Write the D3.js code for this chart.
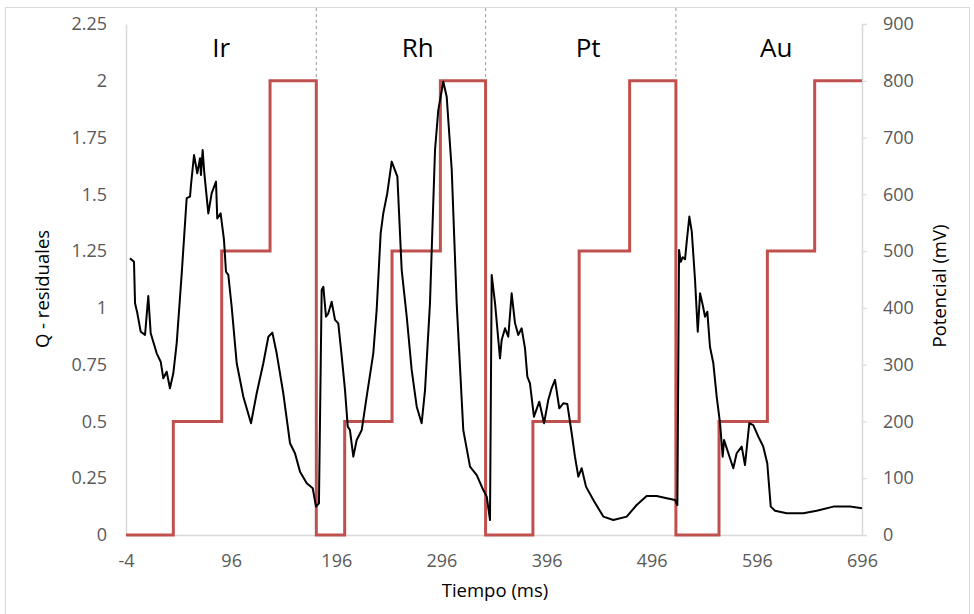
<!DOCTYPE html>
<html>
<head>
<meta charset="utf-8">
<script src="https://cdn.jsdelivr.net/npm/d3@7"></script>
<style>
  body { margin: 0; background: #fff; }
  svg { display: block; font-family: "Open Sans", sans-serif; }
</style>
</head>
<body>
<div class="chart"></div>
<script>
// Q residuales (eje izquierdo)
var tiempo = [-0.2, 3.6, 4.6, 6.8, 10.0, 14.1, 17.2, 19.5, 25.2, 29.0, 31.5, 34.7, 37.8, 41.0, 44.2, 49.0,
  53.7, 56.9, 57.8, 60.7, 63.8, 66.4, 67.3, 68.9, 70.5, 74.3, 77.5, 81.6, 82.8, 86.0, 89.2, 91.1, 93.3,
  96.5, 101.3, 107.6, 114.9, 120.3, 126.6, 131.4, 135.2, 139.3, 145.6, 152.0, 156.7, 161.5, 167.9, 173.6, 176.7,
  179.5, 182.1, 183.7, 186.2, 188.4, 191.6, 194.8, 197.9, 201.2, 204.3, 206.9, 209.0, 212.2, 215.4, 220.2,
  224.9, 231.2, 234.4, 238.2, 240.7, 244.5, 248.7, 254.1, 258.2, 263.0, 267.7, 272.5, 277.2, 280.4, 285.1,
  289.9, 293.0, 297.8, 301.0, 305.8, 310.5, 316.8, 323.2, 329.6, 335.8, 339.1,
  342.2, 343.8, 347.0, 351.7, 353.3, 356.5, 359.6, 362.8, 366.0, 369.1, 372.3, 375.5, 377.7, 380.2, 384.0,
  389.1, 393.6, 397.6, 400.8, 404.0, 408.1, 411.9, 415.7, 419.9, 423.0, 426.2, 429.4, 433.5, 440.5, 450.0,
  459.5, 472.2, 481.7, 491.2, 500.7, 510.3, 518.2,
  520.4, 522.0, 523.6, 525.5, 527.7, 529.3, 531.8, 534.1, 537.2, 539.8, 542.0, 544.5, 546.7, 548.9, 551.4,
  554.6, 557.8, 561.0, 563.5, 564.8, 568.9, 573.6, 576.8, 581.6, 584.7, 588.8, 592.6, 597.4, 602.1, 605.9,
  609.2, 613.3, 624.4, 640.2, 652.9, 668.8, 684.6, 696.0];
var qResiduales = [1.218, 1.203, 1.020, 0.976, 0.895, 0.881, 1.052, 0.888, 0.800, 0.763, 0.690, 0.719, 0.646, 0.712, 0.844, 1.152,
  1.483, 1.490, 1.541, 1.673, 1.593, 1.659, 1.585, 1.695, 1.593, 1.416, 1.505, 1.556, 1.394, 1.416, 1.299, 1.159, 1.145,
  1.005, 0.756, 0.609, 0.492, 0.624, 0.756, 0.873, 0.891, 0.800, 0.624, 0.404, 0.360, 0.279, 0.228, 0.206, 0.125,
  0.139, 1.079, 1.093, 0.961, 0.976, 1.027, 0.947, 0.932, 0.785, 0.638, 0.477, 0.462, 0.345, 0.418, 0.462,
  0.609, 0.800, 0.991, 1.328, 1.416, 1.505, 1.644, 1.578, 1.167, 0.961, 0.727, 0.565, 0.492, 0.638, 1.020,
  1.695, 1.871, 1.996, 1.930, 1.607, 1.020, 0.462, 0.301, 0.264, 0.198, 0.169,
  0.066, 1.145, 1.020, 0.778, 0.859, 0.910, 0.873, 1.064, 0.932, 0.881, 0.910, 0.822, 0.697, 0.668, 0.521,
  0.587, 0.492, 0.594, 0.646, 0.683, 0.558, 0.580, 0.577, 0.448, 0.345, 0.257, 0.294, 0.213, 0.154, 0.081,
  0.066, 0.081, 0.132, 0.172, 0.172, 0.162, 0.154,
  0.132, 1.255, 1.203, 1.223, 1.214, 1.292, 1.402, 1.336, 1.123, 0.895, 1.064, 1.013, 0.961, 0.983, 0.829,
  0.756, 0.609, 0.492, 0.345, 0.418, 0.360, 0.294, 0.360, 0.389, 0.308, 0.492, 0.484, 0.433, 0.389, 0.316,
  0.125, 0.107, 0.096, 0.096, 0.107, 0.125, 0.125, 0.118];

// potencial aplicado (eje derecho), escalones
var pasoTiempo = [-4, 41, 87, 133, 177, 204, 249, 295, 338, 383, 427, 475, 519, 560, 606, 651, 696];
var pasoPotencial = [0, 200, 500, 800, 0, 200, 500, 800, 0, 200, 500, 800, 0, 200, 500, 800, 800];

var metales = ["Ir", "Rh", "Pt", "Au"];
var cortes = [177, 338, 519];

var xTicks = [-4, 96, 196, 296, 396, 496, 596, 696];
var qTicks = [0, 0.25, 0.5, 0.75, 1, 1.25, 1.5, 1.75, 2, 2.25];
var mvTicks = [0, 100, 200, 300, 400, 500, 600, 700, 800, 900];

(function() {
  var width = 974, height = 614;
  var mLeft = 126, mRight = 862, mTop = 24, mBottom = 535;

  var svg = d3.select('.chart').append('svg').attr('width', width).attr('height', height);

  // marco del grafico
  svg.append('rect').attr('x', 5.5).attr('y', 7.5).attr('width', 964).attr('height', 620)
    .attr('fill', 'none').attr('stroke', '#d9d9d9');

  var x = d3.scaleLinear().domain([-4, 696]).range([mLeft, mRight]);
  var yQ = d3.scaleLinear().domain([0, 2.25]).range([mBottom, mTop]);
  var yMv = d3.scaleLinear().domain([0, 900]).range([mBottom, mTop]);

  // ejes
  var gx = svg.append('g').attr('transform', 'translate(0,' + mBottom + ')')
    .call(d3.axisBottom(x).tickValues(xTicks).tickSize(0).tickPadding(19).tickFormat(String));
  var gl = svg.append('g').attr('transform', 'translate(' + mLeft + ',0)')
    .call(d3.axisLeft(yQ).tickValues(qTicks).tickSize(0).tickPadding(19).tickFormat(String));
  var gr = svg.append('g').attr('transform', 'translate(' + mRight + ',0)')
    .call(d3.axisRight(yMv).tickValues(mvTicks).tickSize(5).tickPadding(16).tickFormat(String));

  [gx, gl, gr].forEach(function(g) {
    g.select('.domain').attr('stroke', '#d9d9d9').attr('stroke-width', 1.5);
    g.selectAll('.tick line').attr('stroke', '#d9d9d9');
    g.selectAll('.tick text').attr('fill', '#595959').style('font-size', '18px')
      .style('font-family', '"Open Sans", sans-serif');
  });

  // lineas divisorias
  svg.selectAll('line.corte').data(cortes).enter().append('line')
    .attr('class', 'corte')
    .attr('x1', function(d) { return x(d); }).attr('x2', function(d) { return x(d); })
    .attr('y1', 8).attr('y2', mBottom)
    .attr('stroke', '#9a9a9a').attr('stroke-width', 1).attr('stroke-dasharray', '3,3');

  // potencial
  var pasos = pasoTiempo.map(function(t, i) { return [t, pasoPotencial[i]]; });
  svg.append('path').datum(pasos)
    .attr('fill', 'none').attr('stroke', '#c0504d').attr('stroke-width', 3)
    .attr('d', d3.line().curve(d3.curveStepAfter)
      .x(function(d) { return x(d[0]); }).y(function(d) { return yMv(d[1]); }));

  // Q residuales
  var serie = tiempo.map(function(t, i) { return [t, qResiduales[i]]; });
  svg.append('path').datum(serie)
    .attr('fill', 'none').attr('stroke', '#000').attr('stroke-width', 2).attr('stroke-linejoin', 'round')
    .attr('d', d3.line()
      .x(function(d) { return x(d[0]); }).y(function(d) { return yQ(d[1]); }));

  // nombres de los metales
  var limites = [-4].concat(cortes).concat([696]);
  var dx = [0, 16, 7, 7];
  svg.selectAll('text.metal').data(metales).enter().append('text')
    .attr('class', 'metal')
    .attr('x', function(d, i) { return x((limites[i] + limites[i + 1]) / 2 + dx[i]); })
    .attr('y', 57)
    .attr('text-anchor', 'middle').attr('fill', '#000').style('font-size', '26px')
    .text(function(d) { return d; });

  // titulos de ejes
  svg.append('text').attr('x', (mLeft + mRight) / 2 + 1).attr('y', 597).attr('text-anchor', 'middle')
    .style('font-size', '18.5px').text('Tiempo (ms)');
  svg.append('text').attr('transform', 'translate(49,289) rotate(-90)').attr('text-anchor', 'middle')
    .style('font-size', '18.5px').text('Q - residuales');
  svg.append('text').attr('transform', 'translate(946,286) rotate(-90)').attr('text-anchor', 'middle')
    .style('font-size', '18.5px').text('Potencial (mV)');
})();
</script>
</body>
</html>
